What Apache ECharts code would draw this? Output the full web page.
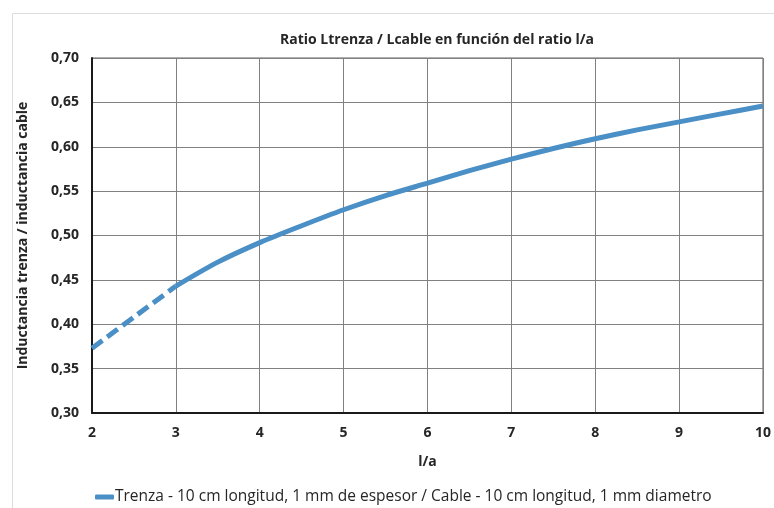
<!DOCTYPE html>
<html>
<head>
<meta charset="utf-8">
<title>Ratio Ltrenza / Lcable</title>
<script src="https://cdn.jsdelivr.net/npm/echarts@6/dist/echarts.min.js"></script>
<style>
  html, body { margin: 0; padding: 0; background: #ffffff; }
  #chart { width: 774px; height: 508px; }
</style>
</head>
<body>
<div id="chart"></div>
<script>
// Ratio of braid inductance to cable inductance against l/a
const seriesName = 'Trenza - 10 cm longitud, 1 mm de espesor / Cable - 10 cm longitud, 1 mm diametro';

// extrapolated stretch (dashed)
const xDashed = [2, 2.5, 3];
const yDashed = [0.373, 0.408, 0.443];

// computed stretch (solid)
const xSolid = [3, 3.5, 4, 4.5, 5, 5.5, 6, 6.5, 7, 7.5, 8, 8.5, 9, 9.5, 10];
const ySolid = [0.443, 0.470, 0.492, 0.511, 0.529, 0.545, 0.559, 0.573, 0.586, 0.598, 0.609, 0.619, 0.628, 0.637, 0.646];

const xTicks = [2, 3, 4, 5, 6, 7, 8, 9, 10];
const yTicks = ['0,30', '0,35', '0,40', '0,45', '0,50', '0,55', '0,60', '0,65', '0,70'];

const lineColor = '#4a8fc6';
const font = '"Open Sans", "Liberation Sans", sans-serif';
const textColor = '#262626';

const pairs = (xs, ys) => xs.map((x, i) => [x, ys[i]]);

const chart = echarts.init(document.getElementById('chart'), null, { renderer: 'canvas' });

chart.setOption({
  backgroundColor: '#ffffff',
  animation: false,
  textStyle: { fontFamily: font, color: textColor },
  title: {
    text: 'Ratio Ltrenza / Lcable en función del ratio l/a',
    left: 432,
    top: 28,
    textAlign: 'center',
    textStyle: { fontFamily: font, fontSize: 14, fontWeight: 'bold', color: textColor }
  },
  graphic: [{
    type: 'rect',
    silent: true,
    shape: { x: 12.5, y: 13.5, width: 800, height: 600 },
    style: { fill: 'none', stroke: '#dcdcdc', lineWidth: 1 }
  }],
  legend: {
    data: [{ name: seriesName, icon: 'roundRect' }],
    left: 90,
    top: 484,
    itemWidth: 19,
    itemHeight: 5,
    itemGap: 0,
    textStyle: { fontFamily: font, fontSize: 15.5, color: textColor, padding: [0, 0, 0, -4] }
  },
  grid: {
    left: 92,
    right: 6,
    top: 58,
    bottom: 95,
    show: true,
    borderColor: '#606060',
    borderWidth: 1
  },
  xAxis: {
    type: 'value',
    min: xTicks[0],
    max: xTicks[xTicks.length - 1],
    interval: 1,
    name: 'l/a',
    nameLocation: 'middle',
    nameGap: 42,
    nameTextStyle: { fontFamily: font, fontSize: 14, fontWeight: 'bold', color: textColor },
    axisLine: { show: true, onZero: false, lineStyle: { color: '#1a1a1a', width: 2 } },
    axisTick: { show: false },
    axisLabel: { fontFamily: font, fontSize: 14, fontWeight: 'bold', color: textColor, margin: 13 },
    splitLine: { show: true, lineStyle: { color: '#808080', width: 1 } }
  },
  yAxis: {
    type: 'value',
    min: 0.30,
    max: 0.70,
    interval: 0.05,
    name: 'Inductancia trenza / inductancia cable',
    nameLocation: 'middle',
    nameGap: 62,
    nameRotate: 90,
    nameTextStyle: { fontFamily: font, fontSize: 14, fontWeight: 'bold', color: textColor },
    axisLine: { show: true, lineStyle: { color: '#1a1a1a', width: 2 } },
    axisTick: { show: false },
    axisLabel: {
      fontFamily: font, fontSize: 14, fontWeight: 'bold', color: textColor, margin: 13,
      formatter: (v) => yTicks[Math.round((v - 0.30) / 0.05)] || ''
    },
    splitLine: { show: true, lineStyle: { color: '#808080', width: 1 } }
  },
  series: [
    {
      name: seriesName,
      type: 'line',
      data: pairs(xSolid, ySolid),
      smooth: 0.3,
      showSymbol: false,
      lineStyle: { color: lineColor, width: 5, cap: 'butt' },
      itemStyle: { color: lineColor },
      z: 3
    },
    {
      name: 'extrapolado',
      type: 'line',
      data: pairs(xDashed, yDashed),
      smooth: 0.3,
      showSymbol: false,
      lineStyle: { color: lineColor, width: 5, type: [13, 6], cap: 'butt' },
      itemStyle: { color: lineColor },
      z: 3
    }
  ]
});
</script>
</body>
</html>
